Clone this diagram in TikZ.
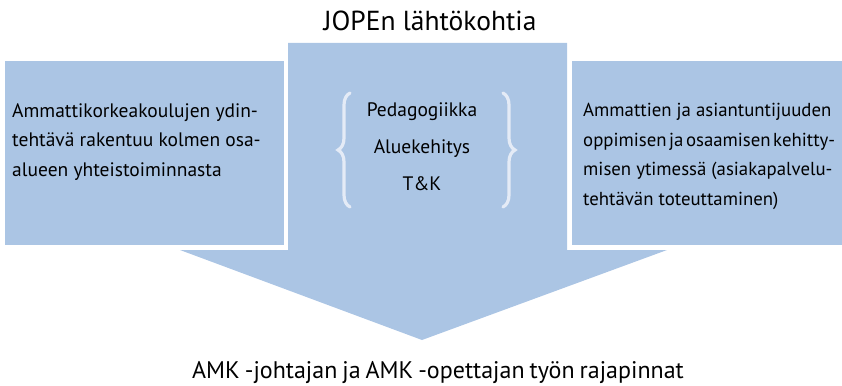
\documentclass[tikz,border=0pt]{standalone}
\usepackage{fontspec}
\setmainfont{PT Sans}
\usetikzlibrary{decorations.pathreplacing}
\definecolor{jopeblue}{RGB}{171,197,228}
\definecolor{bracewhite}{RGB}{228,235,246}
\tikzset{
  box/.style={fill=jopeblue, draw=white, line width=4pt},
  boxtext/.style={anchor=north west, inner sep=0pt, align=left,
    font=\fontsize{19.5}{29.5}\selectfont},
  heading/.style={anchor=base, inner sep=0pt, font=\fontsize{27.5}{30}\selectfont},
  curly/.style={draw=bracewhite, line width=3.2pt, line cap=round,
    decorate, decoration={brace, amplitude=12pt}}
}
\begin{document}
\begin{tikzpicture}[x=1pt, y=-1pt]
  \useasboundingbox (0,0) rectangle (842,385);
  \fill[jopeblue] (288,43) -- (567,43) -- (567,250) -- (667,250) --
        (422,340) -- (180,250) -- (288,250) -- cycle;
  \draw[box] (3,59) rectangle (286,247);
  \draw[box] (570,59) rectangle (846,247);
  \node[heading] (title) at (430,31) {JOPEn lähtökohtia};
  \node[heading, font=\fontsize{24}{30}\selectfont] (result) at (438,378)
        {\spaceskip=5pt plus 1pt\relax AMK -johtajan ja AMK -opettajan työn rajapinnat};
  \node[boxtext] (core) at (12,103) {Ammattikorkeakoulujen ydin-\\
    tehtävä rakentuu kolmen osa-\\alueen yhteistoiminnasta};
  \node[boxtext, font=\fontsize{18.8}{29.5}\selectfont] (expert) at (583,103)
    {Ammattien ja asiantuntijuuden\\
    {\spaceskip=2.5pt plus 1pt\relax oppimisen ja osaamisen kehitty-}\\
    misen ytimessä (asiakapalvelu-\\tehtävän toteuttaminen)};
  \node[anchor=north, inner sep=0pt, align=center,
        font=\fontsize{19.5}{37}\selectfont] (areas) at (422,102)
        {Pedagogiikka\\Aluekehitys\\T\&K};
  \draw[curly] (350,207) -- (350,93);
  \draw[curly] (503,93) -- (503,207);
\end{tikzpicture}
\end{document}
